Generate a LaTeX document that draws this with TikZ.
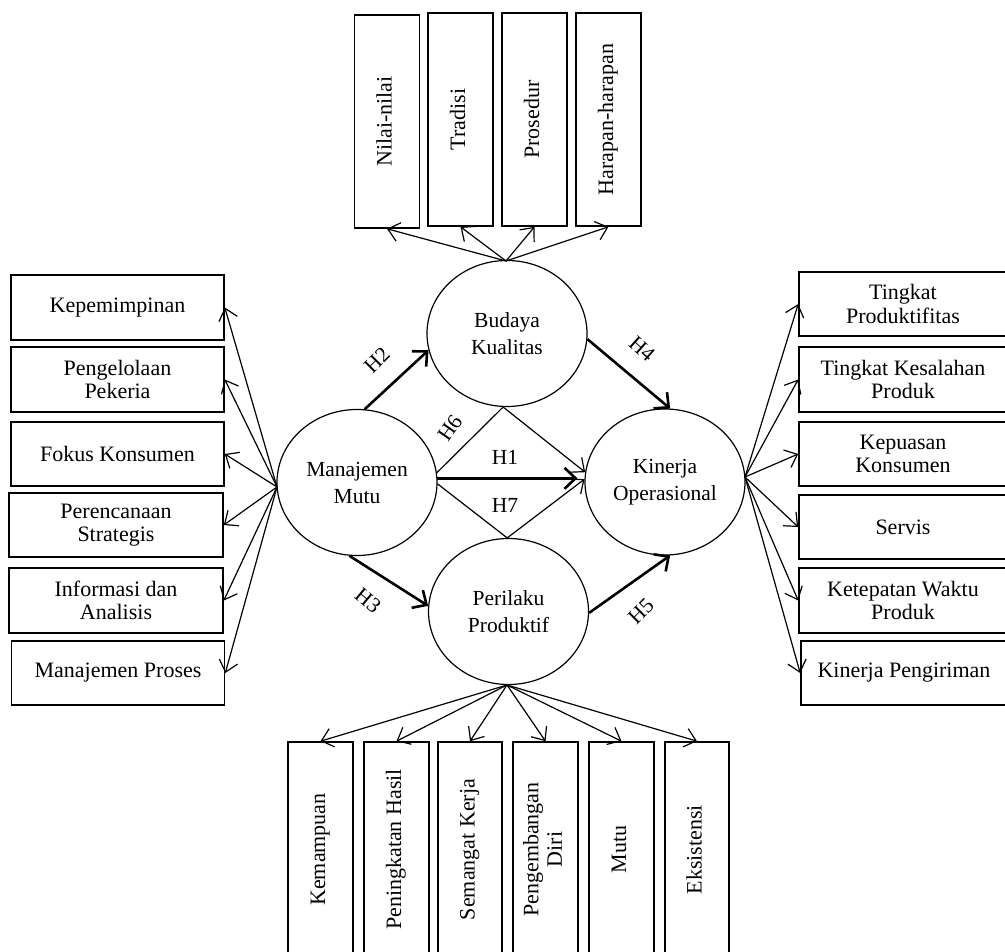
\documentclass[tikz,border=0pt]{standalone}
\usepackage{fontspec}
\setmainfont{Liberation Serif}
\usetikzlibrary{arrows.meta,shapes.geometric}
\tikzset{
  txt/.style={font=\fontsize{22}{23.5}\selectfont},
  box/.style={txt, draw, line width=1.6pt, rectangle, inner sep=0pt, align=center},
  hbox/.style={box, minimum width=213pt, minimum height=65pt},
  rbox/.style={box, minimum width=208pt, minimum height=64pt},
  vbox/.style={box, minimum width=65pt, minimum height=213pt},
  bbox/.style={box, minimum width=65pt, minimum height=215pt},
  lat/.style={draw, ellipse, line width=1.2pt, inner sep=0pt, align=center,
    minimum width=160pt, minimum height=146pt, font=\fontsize{21.5}{27}\selectfont},
  arr/.style={line width=1.2pt, -{Straight Barb[length=11pt,width=19pt]}},
  harr/.style={line width=2.6pt, -{Straight Barb[length=11pt,width=21pt]}},
  lbl/.style={font=\fontsize{21.5}{23.5}\selectfont, inner sep=0pt}
}
\newcommand{\vtext}[1]{\rotatebox{90}{\begin{tabular}{@{}c@{}}#1\end{tabular}}}
\begin{document}
\begin{tikzpicture}[x=1pt,y=-1pt]
\clip (0,0) rectangle (1005,952);
\fill[white] (0,0) rectangle (1005,952);

% latent variables
\node[lat] (bk) at (507,333.5) {Budaya\\Kualitas};
\node[lat] (mm) at (357,482.5) {Manajemen\\Mutu};
\node[lat] (ko) at (665,482) {Kinerja\\Operasional};
\node[lat] (pp) at (508.5,611.5) {Perilaku\\Produktif};

% top boxes
\node[vbox] (t1) at (387,121.5) {\vtext{Nilai-nilai}};
\node[vbox] (t2) at (460.5,119.5) {\vtext{Tradisi}};
\node[vbox] (t3) at (534.5,119.5) {\vtext{Prosedur}};
\node[vbox] (t4) at (608.5,119.5) {\vtext{Harapan-harapan}};

% left boxes
\node[hbox] (l1) at (117.5,307.5) {Kepemimpinan};
\node[hbox] (l2) at (117.5,379.5) {Pengelolaan\\Pekeria};
\node[hbox, minimum height=64pt] (l3) at (117.5,454) {Fokus Konsumen};
\node[hbox, minimum width=214pt, minimum height=64pt] (l4) at (116,525) {Perencanaan\\Strategis};
\node[hbox, minimum width=214pt] (l5) at (116,600.5) {Informasi dan\\Analisis};
\node[hbox, minimum height=64pt] (l6) at (118,673) {Manajemen Proses};

% right boxes
\node[rbox] (r1) at (903,304) {Tingkat\\Produktifitas};
\node[rbox, minimum height=65pt] (r2) at (903,379.5) {Tingkat Kesalahan\\Produk};
\node[rbox] (r3) at (903,454) {Kepuasan\\Konsumen};
\node[rbox] (r4) at (903,527) {Servis};
\node[rbox, minimum height=65pt] (r5) at (903,600.5) {Ketepatan Waktu\\Produk};
\node[rbox, minimum width=206pt] (r6) at (904,673) {Kinerja Pengiriman};

% bottom boxes
\node[bbox] (b1) at (320.5,849.5) {\vtext{Kemampuan}};
\node[bbox] (b2) at (396.5,849.5) {\vtext{Peningkatan Hasil}};
\node[bbox, minimum width=64pt] (b3) at (470,849.5) {\vtext{Semangat Kerja}};
\node[bbox] (b4) at (545.5,849.5) {\vtext{Pengembangan\\Diri}};
\node[bbox] (b5) at (621.5,849.5) {\vtext{Mutu}};
\node[bbox, minimum width=64pt] (b6) at (697,849.5) {\vtext{Eksistensi}};

% fan-out points
\coordinate (bkT) at (506,261);
\coordinate (mmL) at (277,487);
\coordinate (koR) at (745,477);
\coordinate (ppB) at (507,685);

\foreach \t in {t1,t2,t3,t4} \draw[arr] (bkT) -- (\t.south);
\foreach \t in {l1,l2,l3,l4,l5,l6} \draw[arr] (mmL) -- (\t.east);
\foreach \t in {r1,r2,r3,r4,r5,r6} \draw[arr] (koR) -- (\t.west);
\foreach \t in {b1,b2,b3,b4,b5,b6} \draw[arr] (ppB) -- (\t.north);

% structural paths
\draw[harr] (mm.84) -- (bk.192);
\draw[harr] (bk.-4) -- (ko.86);
\draw[harr, shorten >=7pt] (mm.3) -- (mm.3 -| ko.west);
\draw[harr] (mm.264) -- (pp.176);
\draw[harr] (pp.-1) -- (ko.274);
\draw[arr] (mm.7) -- (bk.267) -- (ko.173);
\draw[arr] (mm.-1) -- (pp.91) -- (ko.178);

% labels
\node[lbl, rotate=45] (h2) at (377,360) {H2};
\node[lbl, rotate=-42] (h4) at (642,349) {H4};
\node[lbl, rotate=55] (h6) at (450,428) {H6};
\node[lbl] (h1) at (505,457) {H1};
\node[lbl] (h7) at (505,505) {H7};
\node[lbl, rotate=-40] (h3) at (368,601) {H3};
\node[lbl, rotate=45] (h5) at (641,611) {H5};
\end{tikzpicture}
\end{document}
